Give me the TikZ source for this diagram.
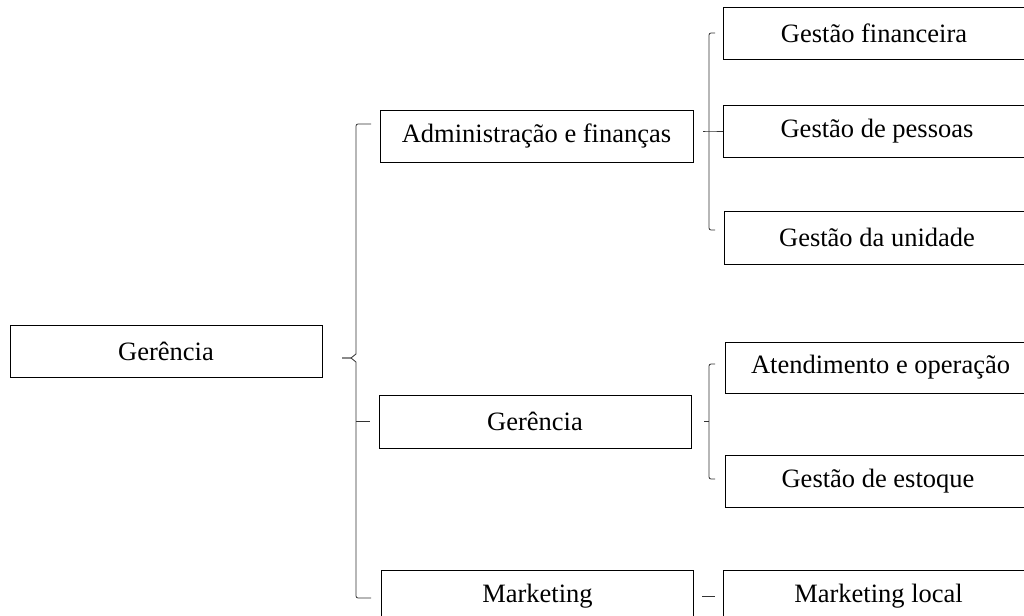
\documentclass[tikz,border=0pt]{standalone}
\usepackage{fontspec}
\setmainfont{Liberation Serif}
\begin{document}
\begin{tikzpicture}[x=1pt,y=-1pt,
  box/.style={draw=black,line width=0.9pt,inner sep=0pt,font=\fontsize{26.5}{30}\selectfont},
  brace/.style={draw=black!80,line width=0.8pt,rounded corners=2pt}]
\useasboundingbox (0,0) rectangle (1024,615);
\clip (0,0) rectangle (1024,615);
% nodes
\node[box,minimum width=312pt,minimum height=52pt] (root) at (166,351.5) {Gerência};
\node[box,minimum width=313pt,minimum height=52pt] (adm) at (536.5,136) {Administração e finanças};
\node[box,minimum width=312pt,minimum height=53pt] (ger) at (535,421.5) {Gerência};
\node[box,minimum width=312pt,minimum height=52pt] (mkt) at (537.5,596) {Marketing};
\node[box,minimum width=302pt,minimum height=52.5pt] (fin) at (874,33.5) {Gestão financeira};
\node[box,minimum width=308pt,minimum height=52pt] (pes) at (877,131) {Gestão de pessoas};
\node[box,minimum width=306pt,minimum height=52.5pt] (uni) at (877,237.75) {Gestão da unidade};
\node[box,minimum width=311pt,minimum height=51pt] (ate) at (880.5,367.5) {Atendimento e operação};
\node[box,minimum width=306pt,minimum height=52pt] (est) at (878,481) {Gestão de estoque};
\node[box,minimum width=310pt,minimum height=52pt] (mkl) at (878.5,596) {Marketing local};
% bracket coordinates
\coordinate (rt) at (371,124);
\coordinate (rb) at (371,598);
\coordinate (rtip) at (342,358);
\coordinate (rmid) at (370,421);
\coordinate (at) at (715,33);
\coordinate (ab) at (715,230);
\coordinate (atip) at (703,131);
\coordinate (gt) at (715,364);
\coordinate (gb) at (715,479);
\coordinate (gtip) at (704,421);
\coordinate (md1) at (702,596);
\coordinate (md2) at (715,596);
% root brace
\draw[brace] (rt) -- (356,124) -- (356,354);
\draw[brace,sharp corners] (356,354) -- (351,358) -- (rtip);
\draw[brace,sharp corners] (rtip) -- (351,358) -- (356,362);
\draw[brace] (356,362) -- (356,598) -- (rb);
\draw[brace] (356,421) -- (rmid);
% admin brace
\draw[brace] (at) -- (709,33) -- (709,230) -- (ab);
\draw[brace] (atip) -- (709,131) -- (pes.west |- 0,131);
% gerencia brace
\draw[brace] (gt) -- (709,364) -- (709,479) -- (gb);
\draw[brace] (gtip) -- (709,421);
% marketing dash
\draw[brace] (md1) -- (md2);
\end{tikzpicture}
\end{document}
